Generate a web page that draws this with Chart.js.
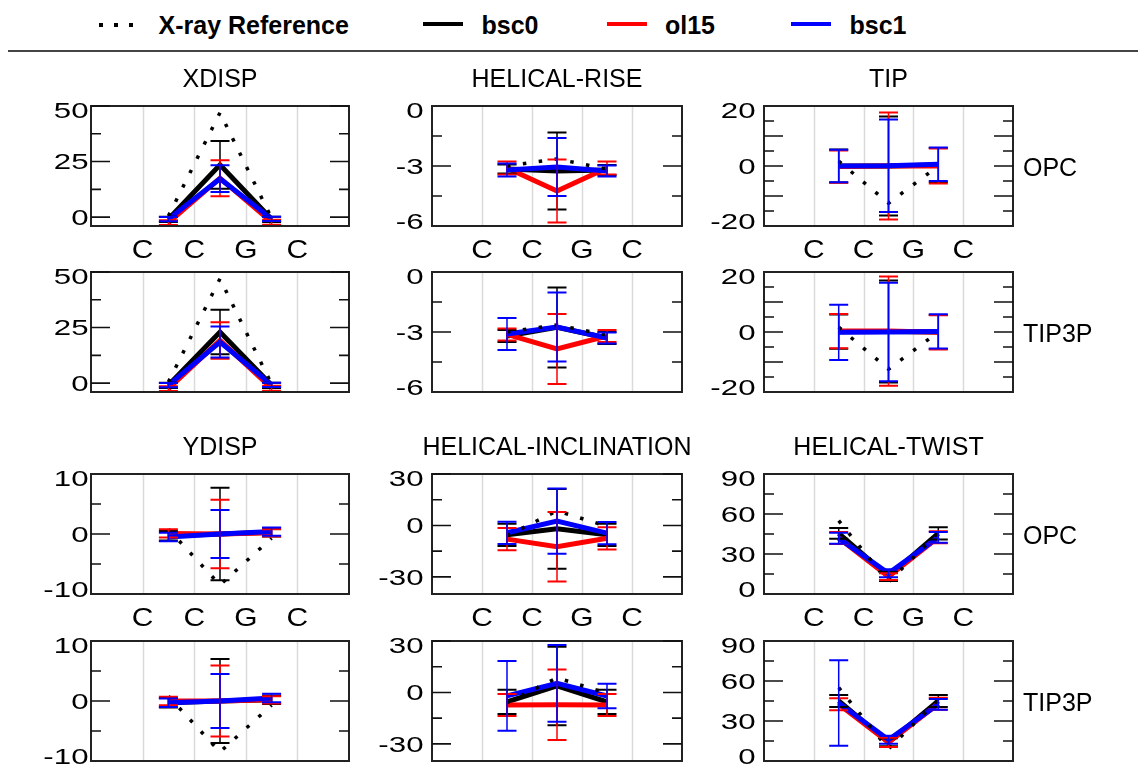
<!DOCTYPE html>
<html><head><meta charset="utf-8">
<script src="https://cdn.jsdelivr.net/npm/chart.js@4.4.0/dist/chart.umd.min.js"></script>
<style>
html,body{margin:0;padding:0;background:#fff;}
#wrap{position:relative;width:1138px;height:771px;overflow:hidden;background:#fff;font-family:"Liberation Sans",Arial,Helvetica,sans-serif;}
#wrap canvas{position:absolute;left:0;top:0;}
.lt{position:absolute;top:10px;font-weight:bold;font-size:25px;line-height:30px;color:#000;white-space:nowrap;}
.ll{position:absolute;top:21.5px;width:40px;height:4px;}
.ld{position:absolute;top:23px;width:3.5px;height:3.5px;background:#000;}
#rule{position:absolute;left:8px;top:50px;width:1130px;height:2px;background:#444;}
</style></head>
<body><div id="wrap">
<div class="ld" style="left:99px"></div><div class="ld" style="left:114px"></div><div class="ld" style="left:129px"></div>
<div class="lt" style="left:158.5px">X-ray Reference</div>
<div class="ll" style="left:423px;background:#000"></div><div class="lt" style="left:481.5px">bsc0</div>
<div class="ll" style="left:607px;background:#f00"></div><div class="lt" style="left:665px">ol15</div>
<div class="ll" style="left:791px;background:#00f"></div><div class="lt" style="left:849.5px">bsc1</div>
<div id="rule"></div>
</div>
<script>
// ---------------- data ----------------
const bases = ['C', 'C', 'G', 'C'];
const basePos = [1, 2, 3, 4];
const stepPos = [1.5, 2.5, 3.5];
const seriesNames = ['X-ray Reference', 'bsc0', 'ol15', 'bsc1'];
const solvents = ['OPC', 'TIP3P'];

// XDISP
const xdispXray = [0.5, 47.0, -0.5];
const xdispOpcBsc0 = [-1.0, 23.5, -1.0];   const xdispOpcBsc0Err = [1.2, 10.7, 1.2];
const xdispOpcOl15 = [-2.5, 17.5, -2.3];   const xdispOpcOl15Err = [1.1, 8.1, 1.1];
const xdispOpcBsc1 = [-0.9, 17.3, -0.8];   const xdispOpcBsc1Err = [1.0, 6.0, 1.0];
const xdispTipBsc0 = [-1.0, 23.0, -1.0];   const xdispTipBsc0Err = [1.2, 10.0, 1.2];
const xdispTipOl15 = [-2.5, 19.2, -2.3];   const xdispTipOl15Err = [1.1, 8.2, 1.1];
const xdispTipBsc1 = [-0.9, 18.5, -0.8];   const xdispTipBsc1Err = [1.0, 7.0, 1.0];
// HELICAL-RISE
const riseXray = [-3.0, -2.65, -3.15];
const riseOpcBsc0 = [-3.15, -3.25, -3.2];  const riseOpcBsc0Err = [0.23, 1.93, 0.25];
const riseOpcOl15 = [-3.1, -4.25, -3.1];   const riseOpcOl15Err = [0.32, 1.58, 0.32];
const riseOpcBsc1 = [-3.2, -3.05, -3.25];  const riseOpcBsc1Err = [0.32, 1.45, 0.28];
const riseTipBsc0 = [-3.2, -2.77, -3.3];   const riseTipBsc0Err = [0.3, 2.0, 0.3];
const riseTipOl15 = [-3.12, -3.85, -3.2];  const riseTipOl15Err = [0.3, 1.75, 0.3];
const riseTipBsc1 = [-3.1, -2.75, -3.3];   const riseTipBsc1Err = [0.8, 1.73, 0.27];
// TIP
const tipXray = [1.6, -12.4, 0.0];
const tipOpcBsc0 = [0.0, 0.0, 0.3];        const tipOpcBsc0Err = [5.5, 16.5, 5.7];
const tipOpcOl15 = [-0.2, 0.0, 0.0];       const tipOpcOl15Err = [5.4, 17.8, 5.8];
const tipOpcBsc1 = [0.0, 0.1, 0.6];        const tipOpcBsc1Err = [5.4, 15.4, 5.6];
const tipTipBsc0 = [0.1, 0.2, 0.0];        const tipTipBsc0Err = [5.7, 17.0, 5.7];
const tipTipOl15 = [0.3, 0.3, -0.1];       const tipTipOl15Err = [5.7, 18.2, 5.7];
const tipTipBsc1 = [-0.1, 0.0, 0.2];       const tipTipBsc1Err = [9.2, 16.4, 5.7];
// YDISP
const ydispXray = [0.8, -8.5, -0.7];
const ydispOpcBsc0 = [-0.3, 0.0, 0.3];     const ydispOpcBsc0Err = [0.8, 7.7, 0.7];
const ydispOpcOl15 = [0.1, 0.0, 0.2];      const ydispOpcOl15Err = [0.7, 5.7, 0.6];
const ydispOpcBsc1 = [-0.5, 0.0, 0.4];     const ydispOpcBsc1Err = [0.7, 4.0, 0.7];
const ydispTipBsc0 = [-0.3, 0.0, 0.2];     const ydispTipBsc0Err = [0.8, 7.0, 0.7];
const ydispTipOl15 = [0.0, 0.0, 0.2];      const ydispTipOl15Err = [0.7, 5.9, 0.6];
const ydispTipBsc1 = [-0.3, 0.0, 0.5];     const ydispTipBsc1Err = [0.7, 4.5, 0.7];
// HELICAL-INCLINATION
const inclXray = [-6.0, 8.5, -0.5];
const inclOpcBsc0 = [-5.5, -2.0, -5.5];    const inclOpcBsc0Err = [6.5, 23.3, 6.5];
const inclOpcOl15 = [-8.0, -12.4, -7.5];   const inclOpcOl15Err = [6.5, 20.3, 6.5];
const inclOpcBsc1 = [-4.3, 2.5, -4.5];     const inclOpcBsc1Err = [6.5, 19.0, 6.5];
const inclTipBsc0 = [-5.5, 3.8, -5.5];     const inclTipBsc0Err = [7.1, 22.9, 7.1];
const inclTipOl15 = [-7.3, -7.2, -7.3];    const inclTipOl15Err = [6.4, 20.6, 6.4];
const inclTipBsc1 = [-2.0, 5.3, -2.1];     const inclTipBsc1Err = [20.3, 22.4, 7.1];
// HELICAL-TWIST
const twistXray = [55.0, 9.0, 46.0];
const twistOpcBsc0 = [45.5, 13.2, 45.5];   const twistOpcBsc0Err = [4.0, 3.5, 4.6];
const twistOpcOl15 = [42.0, 13.0, 42.5];   const twistOpcOl15Err = [4.5, 2.5, 4.5];
const twistOpcBsc1 = [41.8, 15.5, 42.5];   const twistOpcBsc1Err = [4.1, 3.0, 4.0];
const twistTipBsc0 = [45.0, 14.0, 45.0];   const twistTipBsc0Err = [4.5, 3.0, 4.5];
const twistTipOl15 = [42.5, 14.0, 43.0];   const twistTipOl15Err = [4.5, 3.5, 4.5];
const twistTipBsc1 = [43.5, 16.0, 42.5];   const twistTipBsc1Err = [32.0, 3.0, 4.0];

// y tick labels / tick marks
const xdispLabels = [0, 25, 50];   const xdispMajor = [0, 25, 50];   const xdispMinor = [12.5, 37.5];
const riseLabels = [-6, -3, 0];    const riseMajor = [-3];           const riseMinor = [-4.5, -1.5];
const tipLabels = [-20, 0, 20];    const tipMajor = [-10, 0, 10];    const tipMinor = [-15, -5, 5, 15];
const ydispLabels = [-10, 0, 10];  const ydispMajor = [0];           const ydispMinor = [-5, 5];
const inclLabels = [-30, 0, 30];   const inclMajor = [-30, 0, 30];   const inclMinor = [-15, 15];
const twistLabels = [0, 30, 60, 90]; const twistMajor = [30, 60];    const twistMinor = [15, 45, 75];

// ---------------- layout & style ----------------
const W = 1138, H = 771;
const colX = [[91, 349], [432, 682], [764, 1013]];
const rowY = [[106, 226], [272, 392], [474, 594], [641, 761]];
const labelGap = [2.5, 8.5, 8.5];
const colors = ['#000000', '#ff0000', '#0000ff'];
const FONT = '"Liberation Sans", Arial, Helvetica, sans-serif';

const panels = [
  {col:0,row:0,title:'XDISP',xl:true,rl:null,min:-4,max:50,lab:xdispLabels,maj:xdispMajor,mnr:xdispMinor,xr:xdispXray,m:[xdispOpcBsc0,xdispOpcOl15,xdispOpcBsc1],e:[xdispOpcBsc0Err,xdispOpcOl15Err,xdispOpcBsc1Err]},
  {col:0,row:1,title:null,xl:false,rl:null,min:-4,max:50,lab:xdispLabels,maj:xdispMajor,mnr:xdispMinor,xr:xdispXray,m:[xdispTipBsc0,xdispTipOl15,xdispTipBsc1],e:[xdispTipBsc0Err,xdispTipOl15Err,xdispTipBsc1Err]},
  {col:1,row:0,title:'HELICAL-RISE',xl:true,rl:null,min:-6,max:0,lab:riseLabels,maj:riseMajor,mnr:riseMinor,xr:riseXray,m:[riseOpcBsc0,riseOpcOl15,riseOpcBsc1],e:[riseOpcBsc0Err,riseOpcOl15Err,riseOpcBsc1Err]},
  {col:1,row:1,title:null,xl:false,rl:null,min:-6,max:0,lab:riseLabels,maj:riseMajor,mnr:riseMinor,xr:riseXray,m:[riseTipBsc0,riseTipOl15,riseTipBsc1],e:[riseTipBsc0Err,riseTipOl15Err,riseTipBsc1Err]},
  {col:2,row:0,title:'TIP',xl:true,rl:solvents[0],min:-20,max:20,lab:tipLabels,maj:tipMajor,mnr:tipMinor,xr:tipXray,m:[tipOpcBsc0,tipOpcOl15,tipOpcBsc1],e:[tipOpcBsc0Err,tipOpcOl15Err,tipOpcBsc1Err]},
  {col:2,row:1,title:null,xl:false,rl:solvents[1],min:-20,max:20,lab:tipLabels,maj:tipMajor,mnr:tipMinor,xr:tipXray,m:[tipTipBsc0,tipTipOl15,tipTipBsc1],e:[tipTipBsc0Err,tipTipOl15Err,tipTipBsc1Err]},
  {col:0,row:2,title:'YDISP',xl:true,rl:null,min:-10,max:10,lab:ydispLabels,maj:ydispMajor,mnr:ydispMinor,xr:ydispXray,m:[ydispOpcBsc0,ydispOpcOl15,ydispOpcBsc1],e:[ydispOpcBsc0Err,ydispOpcOl15Err,ydispOpcBsc1Err]},
  {col:0,row:3,title:null,xl:false,rl:null,min:-10,max:10,lab:ydispLabels,maj:ydispMajor,mnr:ydispMinor,xr:ydispXray,m:[ydispTipBsc0,ydispTipOl15,ydispTipBsc1],e:[ydispTipBsc0Err,ydispTipOl15Err,ydispTipBsc1Err]},
  {col:1,row:2,title:'HELICAL-INCLINATION',xl:true,rl:null,min:-40,max:30,lab:inclLabels,maj:inclMajor,mnr:inclMinor,xr:inclXray,m:[inclOpcBsc0,inclOpcOl15,inclOpcBsc1],e:[inclOpcBsc0Err,inclOpcOl15Err,inclOpcBsc1Err]},
  {col:1,row:3,title:null,xl:false,rl:null,min:-40,max:30,lab:inclLabels,maj:inclMajor,mnr:inclMinor,xr:inclXray,m:[inclTipBsc0,inclTipOl15,inclTipBsc1],e:[inclTipBsc0Err,inclTipOl15Err,inclTipBsc1Err]},
  {col:2,row:2,title:'HELICAL-TWIST',xl:true,rl:solvents[0],min:0,max:90,lab:twistLabels,maj:twistMajor,mnr:twistMinor,xr:twistXray,m:[twistOpcBsc0,twistOpcOl15,twistOpcBsc1],e:[twistOpcBsc0Err,twistOpcOl15Err,twistOpcBsc1Err]},
  {col:2,row:3,title:null,xl:false,rl:solvents[1],min:0,max:90,lab:twistLabels,maj:twistMajor,mnr:twistMinor,xr:twistXray,m:[twistTipBsc0,twistTipOl15,twistTipBsc1],e:[twistTipBsc0Err,twistTipOl15Err,twistTipBsc1Err]}
];

const wrap = document.getElementById('wrap');
const pts = vals => stepPos.map((x, i) => ({x: x, y: vals[i]}));

function makePanel(p) {
  const [L, R] = colX[p.col];
  const [T, B] = rowY[p.row];
  const cv = document.createElement('canvas');
  cv.width = W; cv.height = H;
  cv.style.width = W + 'px'; cv.style.height = H + 'px';
  wrap.appendChild(cv);

  const lineDs = (i) => ({
    label: seriesNames[i + 1], data: pts(p.m[i]), borderColor: colors[i], backgroundColor: colors[i],
    borderWidth: 5, pointRadius: 0, tension: 0, fill: false, borderJoinStyle: 'miter', order: 3 - i
  });

  const deco = {
    id: 'deco',
    beforeDatasetsDraw(chart) {
      const {ctx, chartArea: a, scales: {x}} = chart;
      ctx.save();
      ctx.strokeStyle = '#dadada'; ctx.lineWidth = 1.5;
      basePos.forEach(v => {
        const px = Math.round(x.getPixelForValue(v)) + 0.5;
        ctx.beginPath(); ctx.moveTo(px, a.top); ctx.lineTo(px, a.bottom); ctx.stroke();
      });
      ctx.restore();
    },
    afterDatasetsDraw(chart) {
      const {ctx, chartArea: a, scales: {x, y}} = chart;
      ctx.save();
      // error bars
      p.m.forEach((vals, s) => {
        ctx.strokeStyle = colors[s];
        vals.forEach((v, i) => {
          const e = p.e[s][i];
          const px = x.getPixelForValue(stepPos[i]);
          const t = y.getPixelForValue(v + e), b = y.getPixelForValue(v - e);
          ctx.lineWidth = 1.5;
          ctx.beginPath(); ctx.moveTo(px, t); ctx.lineTo(px, b); ctx.stroke();
          ctx.lineWidth = 2;
          ctx.beginPath();
          ctx.moveTo(px - 9.5, t); ctx.lineTo(px + 9.5, t);
          ctx.moveTo(px - 9.5, b); ctx.lineTo(px + 9.5, b);
          ctx.stroke();
        });
      });
      // frame
      ctx.strokeStyle = '#222'; ctx.lineWidth = 2;
      ctx.strokeRect(a.left, a.top, a.right - a.left, a.bottom - a.top);
      // tick marks (inward, both sides)
      ctx.lineWidth = 1.6; ctx.strokeStyle = '#111';
      const tick = (v, len) => {
        const py = y.getPixelForValue(v);
        ctx.beginPath();
        ctx.moveTo(a.left, py); ctx.lineTo(a.left + len, py);
        ctx.moveTo(a.right, py); ctx.lineTo(a.right - len, py);
        ctx.stroke();
      };
      p.maj.forEach(v => tick(v, 19));
      p.mnr.forEach(v => tick(v, 10));
      // y tick labels
      ctx.fillStyle = '#000';
      ctx.font = '22px ' + FONT;
      ctx.textAlign = 'right'; ctx.textBaseline = 'alphabetic';
      p.lab.forEach(v => {
        let py = y.getPixelForValue(v);
        py = Math.min(Math.max(py, a.top + 4.5), a.bottom - 4.5);
        ctx.save();
        ctx.translate(a.left - labelGap[p.col], py + 7.9);
        ctx.scale(1.42, 1);
        ctx.fillText(String(v), 0, 0);
        ctx.restore();
      });
      // x labels
      if (p.xl) {
        ctx.font = '26px ' + FONT;
        ctx.textAlign = 'center';
        bases.forEach((bname, i) => {
          const px = x.getPixelForValue(basePos[i]);
          ctx.save();
          ctx.translate(px, a.bottom + 31.5);
          ctx.scale(1.15, 1);
          ctx.fillText(bname, 0, 0);
          ctx.restore();
        });
      }
      // title
      if (p.title) {
        ctx.font = '25px ' + FONT;
        ctx.textAlign = 'center';
        ctx.fillText(p.title, (a.left + a.right) / 2, a.top - 19);
      }
      // row label
      if (p.rl) {
        ctx.font = '25px ' + FONT;
        ctx.textAlign = 'left';
        ctx.fillText(p.rl, a.right + 10, (a.top + a.bottom) / 2 + 9.5);
      }
      ctx.restore();
    }
  };

  new Chart(cv, {
    type: 'line',
    data: {
      datasets: [
        {label: seriesNames[0], data: pts(p.xr), borderColor: '#000', borderWidth: 3.5,
         borderDash: [3.5, 12.5], borderCapStyle: 'butt', pointRadius: 0, tension: 0, fill: false, order: 0},
        lineDs(0), lineDs(1), lineDs(2)
      ]
    },
    options: {
      responsive: false, animation: false, devicePixelRatio: 1, events: [],
      layout: {padding: {left: L, top: T, right: W - R, bottom: H - B}},
      plugins: {legend: {display: false}, tooltip: {enabled: false}, title: {display: false}},
      scales: {
        x: {type: 'linear', display: false, min: 0, max: 5},
        y: {type: 'linear', display: false, min: p.min, max: p.max}
      }
    },
    plugins: [deco]
  });
}

panels.forEach(makePanel);
</script>
</body></html>
